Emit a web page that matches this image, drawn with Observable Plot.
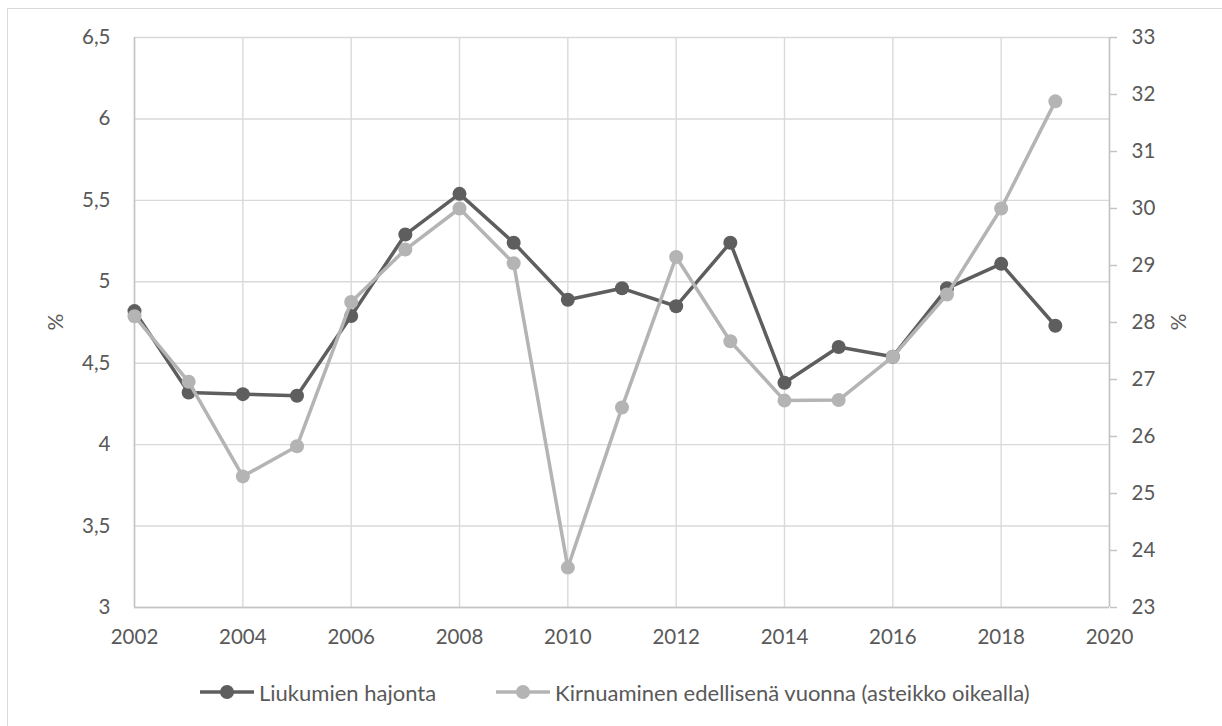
<!DOCTYPE html>
<html>
<head>
<meta charset="utf-8">
<script src="https://cdn.jsdelivr.net/npm/d3@7"></script>
<script src="https://cdn.jsdelivr.net/npm/@observablehq/plot@0.6"></script>
<style>
  html, body { margin: 0; padding: 0; background: #fff; }
  #wrap { position: relative; width: 1222px; height: 726px; overflow: hidden; background: #fff; font-family: Lato, "Open Sans", sans-serif; color: #595959; }
  #frame { position: absolute; left: 7px; top: 8px; width: 1240px; height: 740px; border: 1.3px solid #d9d9d9; box-sizing: border-box; }
  #chart { position: absolute; left: 0; top: 0; }
  .ylab { position: absolute; font-size: 21px; line-height: 20px; color: #595959; }
  #legend { position: absolute; top: 680px; left: 200px; height: 24px; display: flex; align-items: center; font-size: 22px; color: #595959; white-space: nowrap; }
  .item { display: flex; align-items: center; }
  .item svg { display: block; margin-right: 5px; }
</style>
</head>
<body>
<div id="wrap">
  <div id="frame"></div>
  <div id="chart"></div>
  <div class="ylab" id="ylabL">%</div>
  <div class="ylab" id="ylabR">%</div>
  <div id="legend"></div>
</div>
<script>
// ---- Data ----
const years = [2002, 2003, 2004, 2005, 2006, 2007, 2008, 2009, 2010, 2011, 2012, 2013, 2014, 2015, 2016, 2017, 2018, 2019];
const hajonta = [4.82, 4.32, 4.31, 4.30, 4.79, 5.29, 5.54, 5.24, 4.89, 4.96, 4.85, 5.24, 4.38, 4.60, 4.54, 4.96, 5.11, 4.73];
const kirnuaminen = [28.11, 26.96, 25.30, 25.83, 28.36, 29.28, 30.00, 29.04, 23.70, 26.51, 29.15, 27.67, 26.63, 26.64, 27.40, 28.49, 30.00, 31.88];
const xTicks = [2002, 2004, 2006, 2008, 2010, 2012, 2014, 2016, 2018, 2020];
const leftTicks = [3, 3.5, 4, 4.5, 5, 5.5, 6, 6.5];
const rightTicks = [23, 24, 25, 26, 27, 28, 29, 30, 31, 32, 33];
const seriesNames = ["Liukumien hajonta", "Kirnuaminen edellisenä vuonna (asteikko oikealla)"];
const colors = ["#5e5e5e", "#b4b4b4"];

// ---- Secondary axis mapping ----
const L0 = leftTicks[0], L1 = leftTicks[leftTicks.length - 1];
const R0 = rightTicks[0], R1 = rightTicks[rightTicks.length - 1];
const toLeft = v => L0 + (v - R0) * (L1 - L0) / (R1 - R0);
const fromLeft = v => R0 + (v - L0) * (R1 - R0) / (L1 - L0);

const darkData = years.map((y, i) => ({year: y, value: hajonta[i]}));
const lightData = years.map((y, i) => ({year: y, value: toLeft(kirnuaminen[i])}));

const comma = d => String(d).replace(".", ",");

const W = 1222, H = 650;
const chart = Plot.plot({
  width: W,
  height: H,
  marginLeft: 134,
  marginRight: 113,
  marginTop: 37,
  marginBottom: 43,
  style: { fontFamily: "Lato, 'Open Sans', sans-serif", fontSize: "20.5px", color: "#595959", background: "transparent" },
  x: { domain: [xTicks[0], xTicks[xTicks.length - 1]] },
  y: { domain: [L0, L1] },
  marks: [
    Plot.gridX(xTicks, { stroke: "#d9d9d9", strokeOpacity: 1, strokeWidth: 1.4 }),
    Plot.gridY(leftTicks, { stroke: "#d9d9d9", strokeOpacity: 1, strokeWidth: 1.4 }),
    Plot.ruleX([xTicks[0], xTicks[xTicks.length - 1]], { stroke: "#c4c4c4", strokeWidth: 1.5 }),
    Plot.ruleY([L0], { stroke: "#c4c4c4", strokeWidth: 1.5 }),
    Plot.axisX(xTicks, { tickSize: 0, tickPadding: 22, tickFormat: d => String(d), label: null, fill: "#595959" }),
    Plot.axisY(leftTicks, { anchor: "left", tickSize: 0, tickPadding: 24, tickFormat: comma, label: null, fill: "#595959" }),
    Plot.axisY(rightTicks.map(toLeft), { anchor: "right", tickSize: 7, tickPadding: 15, tickFormat: d => String(Math.round(fromLeft(d))), label: null, stroke: "#c4c4c4", strokeWidth: 1.5, fill: "#595959" }),
    Plot.line(darkData, { x: "year", y: "value", stroke: colors[0], strokeWidth: 3.5, strokeLinejoin: "round" }),
    Plot.dot(darkData, { x: "year", y: "value", r: 7, fill: colors[0], stroke: "none" }),
    Plot.line(lightData, { x: "year", y: "value", stroke: colors[1], strokeWidth: 3.5, strokeLinejoin: "round" }),
    Plot.dot(lightData, { x: "year", y: "value", r: 7, fill: colors[1], stroke: "none" })
  ]
});
document.getElementById("chart").appendChild(chart);

// Axis titles ("%") positioned at plot vertical centre
const yMid = (37 + (H - 43)) / 2;
const lL = document.getElementById("ylabL");
lL.style.left = (57 - 10) + "px";
lL.style.top = (yMid - 10) + "px";
lL.style.transform = "rotate(-90deg)";
const lR = document.getElementById("ylabR");
lR.style.left = (1181 - 10) + "px";
lR.style.top = (yMid - 10) + "px";
lR.style.transform = "rotate(90deg)";

// Legend
const legend = document.getElementById("legend");
seriesNames.forEach((name, i) => {
  const item = document.createElement("div");
  item.className = "item";
  if (i > 0) item.style.marginLeft = "60px";
  const ns = "http://www.w3.org/2000/svg";
  const svg = document.createElementNS(ns, "svg");
  svg.setAttribute("width", 54);
  svg.setAttribute("height", 16);
  const ln = document.createElementNS(ns, "line");
  ln.setAttribute("x1", 0); ln.setAttribute("x2", 54);
  ln.setAttribute("y1", 8); ln.setAttribute("y2", 8);
  ln.setAttribute("stroke", colors[i]); ln.setAttribute("stroke-width", 3.5);
  const c = document.createElementNS(ns, "circle");
  c.setAttribute("cx", 27); c.setAttribute("cy", 8); c.setAttribute("r", 7);
  c.setAttribute("fill", colors[i]);
  svg.appendChild(ln); svg.appendChild(c);
  const t = document.createElement("span");
  t.textContent = name;
  item.appendChild(svg); item.appendChild(t);
  legend.appendChild(item);
});
</script>
</body>
</html>
